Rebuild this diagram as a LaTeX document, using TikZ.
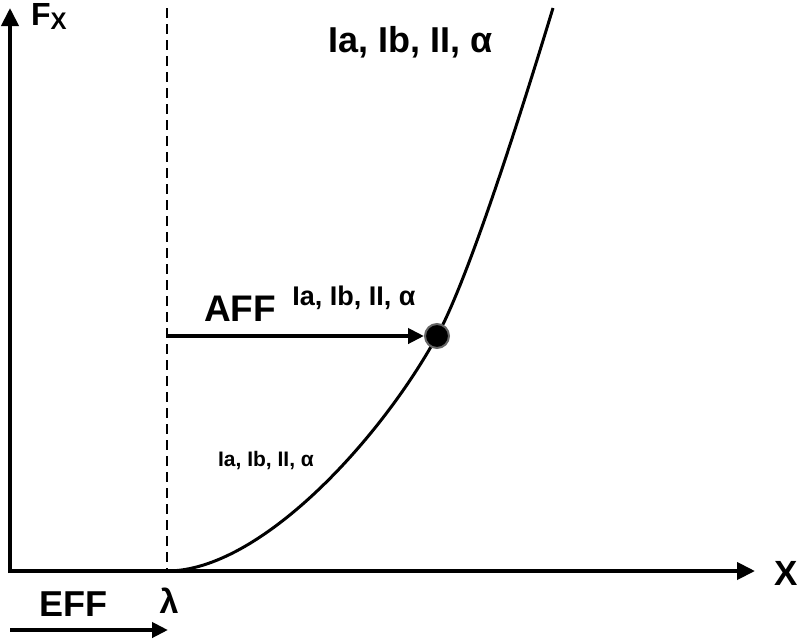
\documentclass[tikz,border=0pt]{standalone}
\usepackage{fontspec}
\setmainfont{Liberation Sans}
\usetikzlibrary{arrows.meta}
\begin{document}
\begin{tikzpicture}[x=1pt,y=-1pt,
  axis/.style={line width=4pt,-{Triangle[length=18pt,width=17pt]}},
  lbl/.style={inner sep=0pt,font=\bfseries},
]
\useasboundingbox (0,0) rectangle (799,640);
% axes
\coordinate (O) at (10,571);
\coordinate (Ytop) at (10,8);
\coordinate (Xend) at (755,571);
\draw[axis] (10,573) -- (Ytop);
\draw[axis] (8,571) -- (Xend);
\node[lbl,font=\fontsize{35}{35}\bfseries\selectfont] (xl) at (786,573) {X};
\node[lbl,font=\fontsize{32}{32}\bfseries\selectfont,anchor=base west] (fl) at (31,25) {F\raisebox{-4pt}{\fontsize{24}{24}\selectfont X}};
% dashed line
\coordinate (Dtop) at (167,8);
\coordinate (L) at (167,571);
\draw[line width=2pt,dash pattern=on 10pt off 6pt] (Dtop) -- (L);
% curve
\coordinate (P) at (437,336);
\coordinate (Ctop) at (553,8);
\draw[line width=3pt] (L) .. controls (260,571) and (380,440) .. (P)
  .. controls (470,276) and (525,100) .. (Ctop);
% AFF arrow
\coordinate (A0) at (167,336);
\node[circle,fill=black,draw=gray!80!black,line width=2pt,minimum size=24pt,inner sep=0pt] (dot) at (P) {};
\draw[line width=4pt,-{Triangle[length=16pt,width=15pt]}] (A0) -- (dot.west);
\node[lbl,font=\fontsize{37}{37}\bfseries\selectfont] (aff) at (240,309) {AFF};
\node[lbl,font=\fontsize{27}{27}\bfseries\selectfont] (aff2) at (354,298) {Ia, Ib, II, α};
% labels
\node[lbl,font=\fontsize{36}{36}\bfseries\selectfont] (top) at (411,42) {Ia, Ib, II, α};
\node[lbl,font=\fontsize{21}{21}\bfseries\selectfont] (low) at (266,461) {Ia, Ib, II, α};
% EFF
\node[lbl,font=\fontsize{36}{36}\bfseries\selectfont] (eff) at (73,604) {EFF};
\node[lbl,font=\fontsize{34}{34}\bfseries\selectfont] (lam) at (169,601) {λ};
\coordinate (E0) at (10,630);
\coordinate (E1) at (168,630);
\draw[line width=4pt,-{Triangle[length=16pt,width=15pt]}] (E0) -- (E1);
\end{tikzpicture}
\end{document}
